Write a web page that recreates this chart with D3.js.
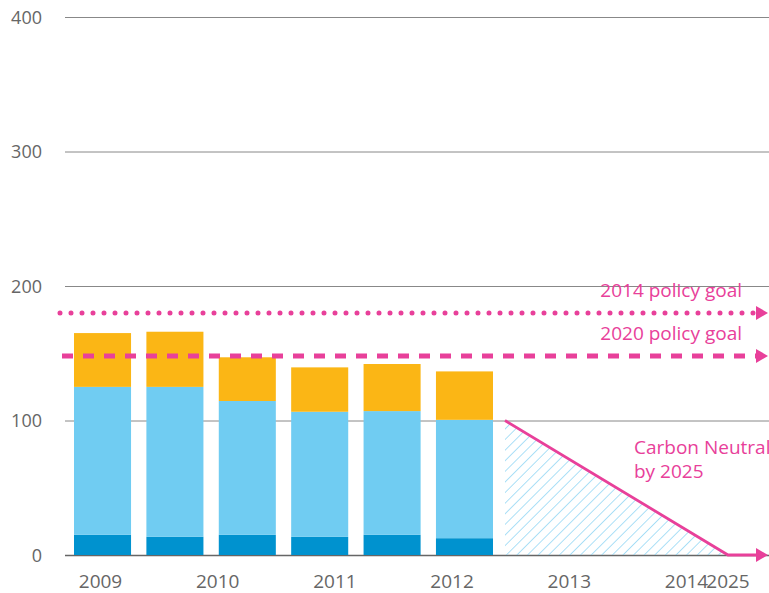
<!DOCTYPE html>
<html lang="en">
<head>
<meta charset="utf-8">
<title>Carbon emissions</title>
<script src="https://cdn.jsdelivr.net/npm/d3@7"></script>
<style>
  body { margin: 0; background: #fff; }
  svg text { font-family: "Open Sans", "Noto Sans", sans-serif; }
  .tick text { fill: #666; font-size: 18px; }
</style>
</head>
<body>
<div id="chart"></div>
<script>
// data
var years = ["2009", "2010", "2011", "2012", "2013", "2014"];
var scopeA = [15, 13.5, 15, 13.5, 15, 12.5];      // dark blue
var scopeB = [110, 111.5, 99.5, 93, 92, 88];      // light blue
var scopeC = [40, 41, 32.5, 33, 35, 36];          // orange
var yTicks = [0, 100, 200, 300, 400];
var xLabels = ["2009", "2010", "2011", "2012", "2013", "2014"];
var goal2014 = 180;
var goal2020 = 148;
var neutralYears = [2013, 2025];
var neutralVals = [100, 0];

var W = 769, H = 593;
var colors = ["#0092cf", "#70ccf2", "#fbb615"];
var pink = "#e8409a";

var svg = d3.select("#chart").append("svg")
  .attr("width", W).attr("height", H);

var y = d3.scaleLinear().domain([0, 400]).range([555, 17]);
var xBar = d3.scaleBand().domain(years).range([74, 493]).paddingInner(0.212).paddingOuter(0);
var xLab = d3.scalePoint().domain(xLabels).range([100, 686]);
var xProj = d3.scaleLinear().domain(neutralYears).range([505, 728]);

// hatch pattern
var defs = svg.append("defs");
defs.append("pattern")
  .attr("id", "hatch")
  .attr("patternUnits", "userSpaceOnUse")
  .attr("width", 7.5).attr("height", 7.5)
  .attr("patternTransform", "rotate(45)")
  .append("line")
  .attr("x1", 0).attr("y1", 0).attr("x2", 0).attr("y2", 7.5)
  .attr("stroke", "#7fcff2").attr("stroke-width", 1.3);

// gridlines + y labels
var yAxis = d3.axisLeft(y).tickValues(yTicks).tickSize(0).tickPadding(23);
var gy = svg.append("g").attr("transform", "translate(65,0)").call(yAxis);
gy.select(".domain").remove();
gy.selectAll(".tick text").attr("dy", "0.35em");
gy.selectAll(".tick").append("line")
  .attr("x1", 0).attr("x2", W - 65)
  .attr("stroke", function(d) { return d === 0 ? "#666" : "#888"; })
  .attr("stroke-width", function(d) { return d === 0 ? 1.6 : 1; });

// stacked bars
var rows = years.map(function(yr, i) {
  return { year: yr, a: scopeA[i], b: scopeB[i], c: scopeC[i] };
});
var series = d3.stack().keys(["a", "b", "c"])(rows);
svg.append("g").selectAll("g").data(series).enter().append("g")
  .attr("fill", function(d, i) { return colors[i]; })
  .selectAll("rect").data(function(d) { return d; }).enter().append("rect")
  .attr("x", function(d) { return xBar(d.data.year); })
  .attr("width", xBar.bandwidth())
  .attr("y", function(d) { return y(d[1]); })
  .attr("height", function(d) { return y(d[0]) - y(d[1]); });

// carbon neutral projection
var pts = neutralYears.map(function(yr, i) { return [xProj(yr), y(neutralVals[i])]; });
svg.append("path")
  .attr("d", d3.line()([pts[0], pts[1], [pts[0][0], y(0)]]) + "Z")
  .attr("fill", "url(#hatch)");
svg.append("path")
  .attr("d", d3.line()([pts[0], pts[1], [756, y(0)]]))
  .attr("fill", "none").attr("stroke", pink).attr("stroke-width", 2.8);

function arrow(yy) {
  svg.append("path")
    .attr("d", "M756," + (yy - 7) + "L768," + yy + "L756," + (yy + 7) + "Z")
    .attr("fill", pink);
}
arrow(y(0));

// goal lines
svg.append("line")
  .attr("x1", 60).attr("x2", 756)
  .attr("y1", y(goal2014)).attr("y2", y(goal2014))
  .attr("stroke", pink).attr("stroke-width", 5)
  .attr("stroke-linecap", "round").attr("stroke-dasharray", "0 11");
arrow(y(goal2014));
svg.append("line")
  .attr("x1", 62).attr("x2", 756)
  .attr("y1", y(goal2020)).attr("y2", y(goal2020))
  .attr("stroke", pink).attr("stroke-width", 5)
  .attr("stroke-dasharray", "11 10");
arrow(y(goal2020));

svg.append("text").attr("x", 742).attr("y", 297)
  .attr("text-anchor", "end").attr("fill", pink).attr("font-size", 19)
  .text("2014 policy goal");
svg.append("text").attr("x", 742).attr("y", 340)
  .attr("text-anchor", "end").attr("fill", pink).attr("font-size", 19)
  .text("2020 policy goal");

var cn = svg.append("text").attr("x", 634).attr("y", 454)
  .attr("fill", pink).attr("font-size", 19);
cn.append("tspan").attr("x", 634).text("Carbon Neutral");
cn.append("tspan").attr("x", 634).attr("dy", 24).text("by 2025");

// x labels
var xAxis = d3.axisBottom(xLab).tickSize(0).tickPadding(0);
var gx = svg.append("g").attr("transform", "translate(0,581)").call(xAxis);
gx.select(".domain").remove();
gx.selectAll(".tick text").attr("dy", "0.35em").style("font-size", "19px");
svg.append("text")
  .attr("x", xProj(2025)).attr("y", 581).attr("dy", "0.35em")
  .attr("text-anchor", "middle").attr("fill", "#666").attr("font-size", 19)
  .text("2025");
</script>
</body>
</html>
